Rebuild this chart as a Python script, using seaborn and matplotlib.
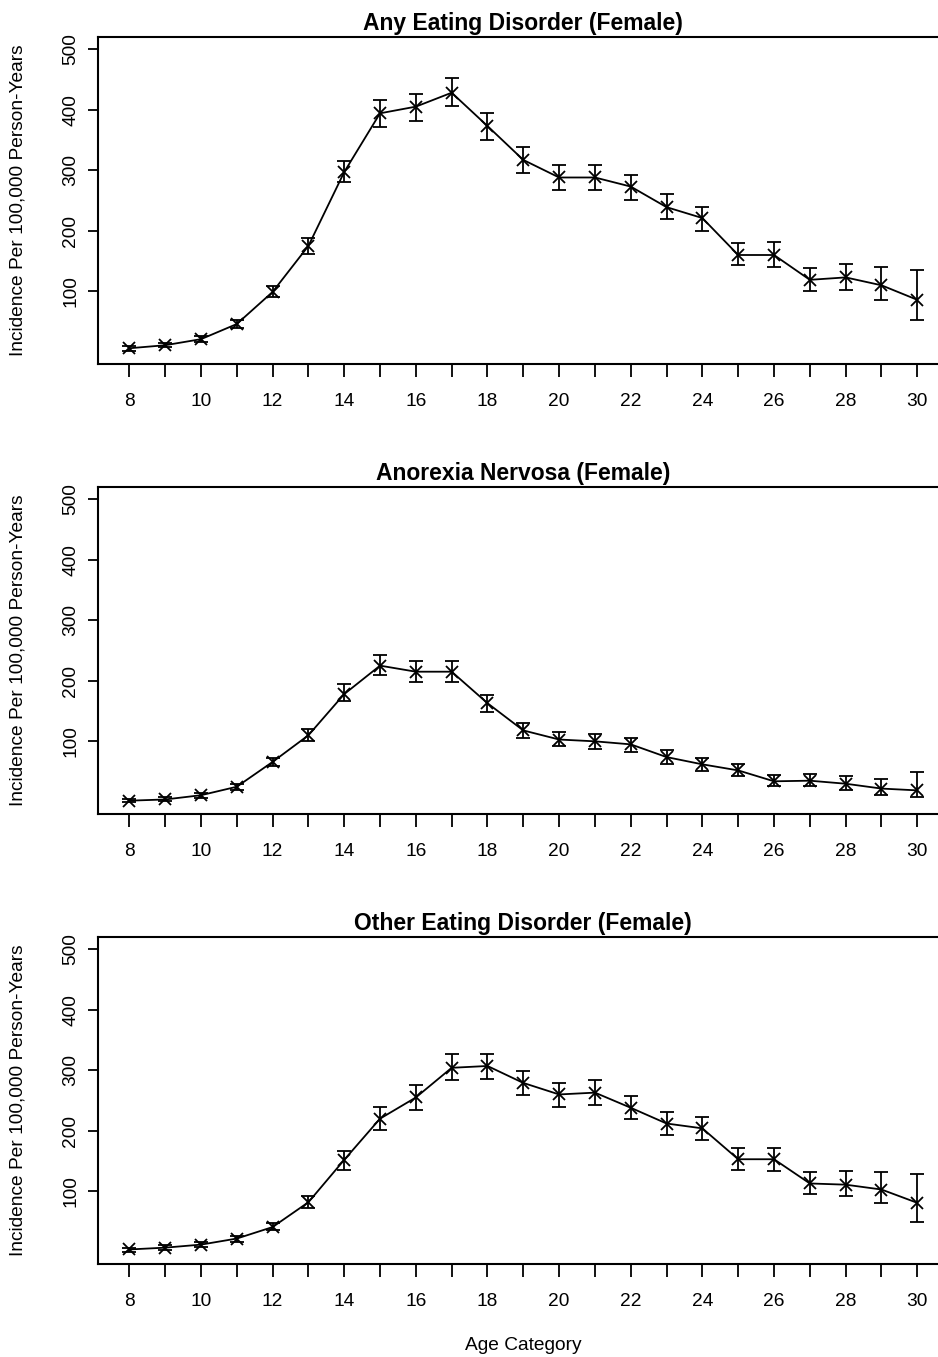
import matplotlib
matplotlib.use("Agg")
import matplotlib.pyplot as plt
import seaborn as sns
import numpy as np

ages = list(range(8, 31))

# Any eating disorder
any_rate = [6, 11, 21, 46, 99, 175, 297, 394, 405, 428, 373, 317, 288, 288, 273, 239, 221, 160, 160, 119, 123, 110, 86]
any_lo = [2, 8, 16, 39, 90, 162, 280, 372, 382, 406, 350, 296, 268, 268, 251, 219, 200, 143, 141, 101, 102, 86, 53]
any_hi = [9, 15, 26, 52, 109, 188, 316, 416, 426, 452, 394, 338, 308, 308, 292, 260, 240, 179, 181, 139, 145, 140, 135]

# Anorexia nervosa
an_rate = [2, 4, 11, 25, 66, 110, 178, 225, 215, 215, 163, 118, 103, 100, 95, 74, 62, 52, 34, 35, 30, 22, 19]
an_lo = [0, 1, 7, 20, 59, 100, 166, 209, 198, 198, 148, 106, 92, 88, 83, 63, 51, 42, 26, 26, 20, 12, 8]
an_hi = [4, 8, 15, 30, 73, 121, 195, 243, 232, 232, 176, 130, 115, 112, 106, 85, 73, 63, 44, 46, 42, 37, 50]

# Other eating disorder
other_rate = [4, 7, 12, 22, 41, 82, 152, 220, 255, 304, 307, 279, 260, 263, 238, 212, 204, 153, 153, 113, 111, 103, 81]
other_lo = [0, 3, 8, 16, 36, 73, 135, 202, 234, 284, 285, 259, 239, 243, 219, 193, 184, 136, 134, 96, 92, 81, 49]
other_hi = [6, 11, 16, 27, 48, 92, 167, 240, 275, 326, 326, 299, 279, 284, 258, 231, 223, 171, 171, 132, 134, 132, 128]

titles = ["Any Eating Disorder (Female)", "Anorexia Nervosa (Female)", "Other Eating Disorder (Female)"]
panels = [(any_rate, any_lo, any_hi), (an_rate, an_lo, an_hi), (other_rate, other_lo, other_hi)]
y_ticks = [100, 200, 300, 400, 500]

sns.set_style("ticks")
plt.rcParams["font.family"] = ["Liberation Sans", "DejaVu Sans"]
plt.rcParams["text.color"] = "black"
plt.rcParams["axes.labelcolor"] = "black"

W, H = 938, 1357
fig = plt.figure(figsize=(W / 100, H / 100), dpi=100)

left_px, right_px = 97.8, 948.8
tops = [37, 487, 937]
height_px = 327

for i in range(3):
    rate, lo, hi = panels[i]
    top = tops[i]
    ax = fig.add_axes([left_px / W, 1 - (top + height_px) / H,
                       (right_px - left_px) / W, height_px / H])
    rate = np.array(rate)
    yerr = [rate - np.array(lo), np.array(hi) - rate]
    ax.errorbar(ages, rate, yerr=yerr, fmt="none", ecolor="black",
                elinewidth=1.3, capsize=4.7, capthick=1.3)
    sns.lineplot(x=ages, y=rate, ax=ax, color="black", marker="x",
                 markersize=8, markeredgewidth=1.3, markeredgecolor="black",
                 linewidth=1.3)
    ax.set_xlim(8 - 0.88, 30 + 0.88)
    ax.set_ylim(-20, 520)
    ax.set_xticks(ages)
    ax.set_xticklabels([str(a) if a % 2 == 0 else "" for a in ages])
    ax.set_yticks(y_ticks)
    ax.set_yticklabels([str(v) for v in y_ticks], rotation=90, va="center")
    ax.tick_params(axis="x", length=9, width=1.3, pad=12, labelsize=13.8,
                   colors="black", labelcolor="black")
    ax.tick_params(axis="y", length=7.5, width=1.3, pad=6, labelsize=13.8,
                   colors="black", labelcolor="black")
    for s in ax.spines.values():
        s.set_linewidth(1.5)
        s.set_color("black")
    ax.set_title(titles[i], fontsize=16.5, fontweight="bold", pad=5, color="black")
    ax.set_xlabel("")
    ax.set_ylabel("")
    fig.text(18 / W, 1 - (top + height_px / 2) / H, "Incidence Per 100,000 Person-Years",
             rotation=90, ha="center", va="center", fontsize=13.8)

fig.text((left_px + right_px) / 2 / W, 1 - 1345 / H, "Age Category",
         ha="center", va="center", fontsize=13.8)

fig.savefig("out.png", dpi=100)
